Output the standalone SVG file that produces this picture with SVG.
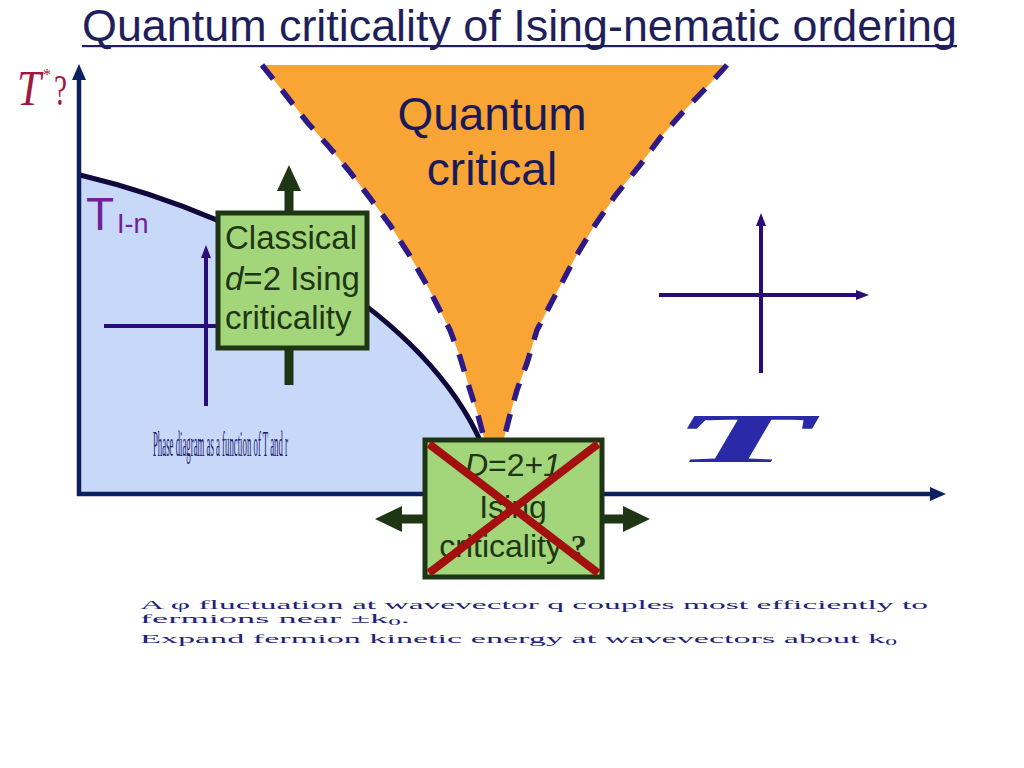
<svg xmlns="http://www.w3.org/2000/svg" width="1024" height="768" viewBox="0 0 1024 768">
<defs>
<style>
.sans{font-family:"Liberation Sans",Arial,sans-serif}
.serif{font-family:"Liberation Serif","DejaVu Serif",serif}
.box{fill:#a3d67a;stroke:#1f3615;stroke-width:5}
.boxtxt{fill:#1f3615;font-family:"Liberation Sans",Arial,sans-serif}
.garrow{fill:#1f3615}
.axis{stroke:#0c1f60;stroke-width:4.5;fill:none}
.axishead{fill:#0c1f60}
.cross{stroke:#2a0b7a;stroke-width:4;fill:none}
.crosshead{fill:#2a0b7a}
.dash{stroke:#2e1a87;stroke-width:5.5;fill:none;stroke-dasharray:18 14}
.xline{stroke:#a3100f;stroke-width:8;stroke-linecap:butt}
.note{fill:#22227a}
</style>
</defs>
<rect width="1024" height="768" fill="#ffffff"/>

<g id="title">
<text class="sans" x="82" y="41" font-size="44" fill="#1f1f5c" textLength="875" lengthAdjust="spacingAndGlyphs">Quantum criticality of Ising-nematic ordering</text>
<rect x="82" y="45" width="875" height="2.2" fill="#1f1f5c"/>
</g>

<g id="ordered-region">
<path d="M80,175 C270,220 440,330 486,455 L489,494 L80,494 Z" fill="#c8d8f8"/>
</g>

<g id="quantum-critical-region">
<path d="M262,65 L285,94 L307,122 L330,148 L350,172 L370,198 L390,225 L410,256 L428,287 L450,330 L460,357 L470,390 L478,415 L485,442 L503,442 L510,415 L517,390 L527,363 L537,330 L558,290 L575,258 L593,228 L615,196 L640,165 L660,138 L683,112 L705,89 L727,65 Z" fill="#f8a535"/>
<path class="dash" d="M262,65 L285,94 L307,122 L330,148 L350,172 L370,198 L390,225 L410,256 L428,287 L450,330 L460,357 L470,390 L478,415 L485,442"/>
<path class="dash" d="M727,65 L705,89 L683,112 L660,138 L640,165 L615,196 L593,228 L575,258 L558,290 L537,330 L527,363 L517,390 L510,415 L503,442"/>
<text class="sans" x="492" y="130" font-size="46" fill="#1a1a5a" text-anchor="middle">Quantum</text>
<text class="sans" x="492" y="185" font-size="46" fill="#1a1a5a" text-anchor="middle">critical</text>
</g>

<g id="phase-boundary">
<path d="M80,175 C270,220 440,330 486,455" fill="none" stroke="#10083a" stroke-width="5"/>
</g>

<g id="axes">
<line class="axis" x1="79" y1="496" x2="79" y2="78"/>
<polygon class="axishead" points="72,80 79,64 86,80"/>
<line class="axis" x1="77" y1="494" x2="932" y2="494"/>
<polygon class="axishead" points="930,487 946,494 930,501"/>
</g>

<g id="labels">
<text class="serif" x="17" y="105" font-size="50" font-style="italic" fill="#a01840" textLength="24" lengthAdjust="spacingAndGlyphs">T</text>
<text class="serif" x="43" y="80" font-size="16" fill="#a01840">*</text>
<text class="serif" x="54" y="105" font-size="44" fill="#a01840" textLength="13" lengthAdjust="spacingAndGlyphs">?</text>
<text class="sans" x="86" y="230" font-size="46" fill="#70209a">T</text>
<text class="sans" x="117" y="233" font-size="27" fill="#70209a">I-n</text>
<text class="serif" x="153" y="456" font-size="36" fill="#1a1a70" textLength="135" lengthAdjust="spacingAndGlyphs">Phase diagram as a function of T and r</text>
<text class="serif" x="670" y="462" font-size="70" font-weight="bold" font-style="italic" fill="#2a2aa8" textLength="142" lengthAdjust="spacingAndGlyphs">T</text>
</g>

<g id="connectors">
<line class="cross" x1="104" y1="326" x2="220" y2="326"/>
<line class="cross" x1="206" y1="406" x2="206" y2="256"/>
<polygon class="crosshead" points="201,258 206,245 211,258"/>
<line class="cross" x1="761" y1="373" x2="761" y2="224"/>
<polygon class="crosshead" points="756,226 761,213 766,226"/>
<line class="cross" x1="659" y1="295" x2="858" y2="295"/>
<polygon class="crosshead" points="856,290 869,295 856,300"/>
<rect class="garrow" x="284.5" y="188" width="9" height="27"/>
<polygon class="garrow" points="277,191 289,165 301,191"/>
<rect class="garrow" x="284.5" y="347" width="9" height="38"/>
<rect class="garrow" x="400" y="514.5" width="27" height="9"/>
<polygon class="garrow" points="402,506 375,519 402,532"/>
<rect class="garrow" x="600" y="514.5" width="25" height="9"/>
<polygon class="garrow" points="623,506 650,519 623,532"/>
</g>

<g id="classical-box">
<rect class="box" x="218" y="213" width="149" height="135"/>
<text class="boxtxt" x="225" y="249" font-size="33">Classical</text>
<text class="boxtxt" x="225" y="290" font-size="33"><tspan font-style="italic">d</tspan>=2 Ising</text>
<text class="boxtxt" x="225" y="329" font-size="33">criticality</text>
</g>

<g id="quantum-box">
<rect class="box" x="425" y="440" width="177" height="137"/>
<text class="boxtxt" x="513" y="476" font-size="32" text-anchor="middle"><tspan font-style="italic">D</tspan>=2+<tspan font-style="italic">1</tspan></text>
<text class="boxtxt" x="513" y="518" font-size="32" text-anchor="middle">Ising</text>
<text class="boxtxt" x="513" y="557" font-size="32" text-anchor="middle">criticality <tspan font-family="Liberation Serif,serif" font-weight="bold">?</tspan></text>
<line class="xline" x1="429" y1="444" x2="598" y2="573"/>
<line class="xline" x1="598" y1="444" x2="429" y2="573"/>
</g>

<g id="notes">
<text class="serif note" x="140" y="609" font-size="13" textLength="788" lengthAdjust="spacingAndGlyphs">A φ fluctuation at wavevector q couples most efficiently to</text>
<text class="serif note" x="140" y="623" font-size="13" textLength="270" lengthAdjust="spacingAndGlyphs">fermions near ±k<tspan font-size="9" dy="2">0</tspan><tspan dy="-2">.</tspan></text>
<text class="serif note" x="140" y="643" font-size="13" textLength="757" lengthAdjust="spacingAndGlyphs">Expand fermion kinetic energy at wavevectors about k<tspan font-size="9" dy="2">0</tspan></text>
</g>
</svg>
